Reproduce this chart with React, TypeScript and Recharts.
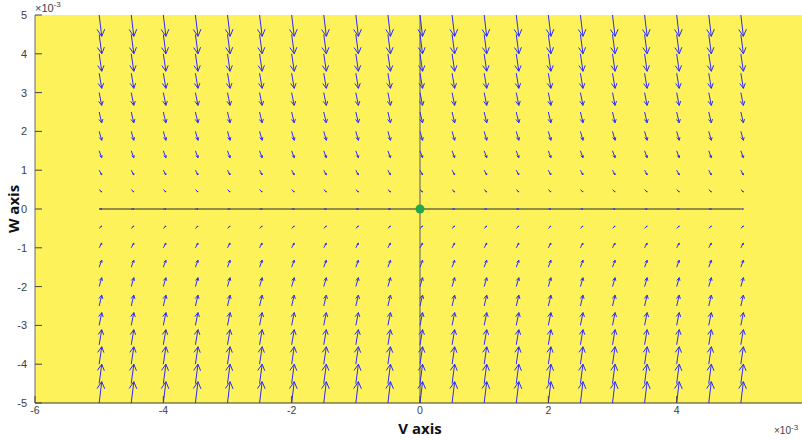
import React from "react";
import {
  ComposedChart, Line, Scatter, XAxis, YAxis, CartesianGrid,
} from "recharts";

// grid of the quiver plot (V in x10^-3, W in x10^-3)
const V_COLS = [-5, -4.5, -4, -3.5, -3, -2.5, -2, -1.5, -1, -0.5, 0, 0.5, 1, 1.5, 2, 2.5, 3, 3.5, 4, 4.5, 5];
const W_ROWS = [5, 4.5, 4, 3.5, 3, 2.5, 2, 1.5, 1, 0.5, 0, -0.5, -1, -1.5, -2, -2.5, -3, -3.5, -4, -4.5, -5];
// vertical arrow component per row (same for every column)
const ROW_DW = [-0.55, -0.5, -0.45, -0.39, -0.33, -0.28, -0.23, -0.18, -0.12, -0.06, 0, 0.06, 0.12, 0.18, 0.23, 0.28, 0.33, 0.39, 0.45, 0.5, 0.55];
// horizontal arrow component (constant small drift to the right)
const DV = 0.04;

const X_TICKS = [-6, -4, -2, 0, 2, 4, 6];
const Y_TICKS = [-5, -4, -3, -2, -1, 0, 1, 2, 3, 4, 5];

const NULL_V = [{ x: 0, y: -5 }, { x: 0, y: 5 }];
const NULL_W = [{ x: -5, y: 0 }, { x: 5, y: 0 }];
const EQUILIBRIUM = [{ x: 0, y: 0 }];

type Pt = { x: number; y: number | null };

// shafts + heads like matlab quiver (alpha = beta = 0.33)
function buildArrows(): Pt[] {
  const out: Pt[] = [];
  const a = 0.33, b = 0.33;
  W_ROWS.forEach((w, ri) => {
    const v = ROW_DW[ri];
    V_COLS.forEach((x) => {
      const u = DV;
      const tx = x + u, ty = w + v;
      out.push({ x, y: w }, { x: tx, y: ty }, { x: tx, y: null });
      const h1x = tx - a * (u + b * v), h1y = ty - a * (v - b * u);
      const h2x = tx - a * (u - b * v), h2y = ty - a * (v + b * u);
      out.push({ x: h1x, y: h1y }, { x: tx, y: ty }, { x: h2x, y: h2y }, { x: h2x, y: null });
    });
  });
  return out;
}

const ARROWS = buildArrows();

const LeftTick = ({ x, y, payload }: any) => (
  <g>
    <line x1={x + 8} x2={x + 15} y1={y} y2={y} stroke="#444" />
    <text x={x} y={y} dy={4} textAnchor="end" fontSize={11} fill="#404040">{payload.value}</text>
  </g>
);

// the 6 label lies past the window edge, so only its tick is drawn
const BottomTick = ({ x, y, payload }: any) => (
  <g>
    <line x1={x} x2={x} y1={y - 6} y2={y - 13} stroke="#444" />
    {payload.value < 6 && (
      <text x={x} y={y} dy={5} textAnchor="middle" fontSize={10.5} fill="#404040">{payload.value}</text>
    )}
  </g>
);

const TopTick = ({ x, y }: any) => <line x1={x} x2={x} y1={y} y2={y + 7} stroke="#444" />;
const RightTick = ({ x, y }: any) => <line x1={x - 7} x2={x} y1={y} y2={y} stroke="#444" />;

export default function App() {
  return (
    <div style={{ position: "absolute", left: 0, top: 0, width: 802, height: 441, overflow: "hidden", background: "#fff", fontFamily: "'Liberation Sans', Arial, sans-serif" }}>
      <ComposedChart width={810} height={441} margin={{ top: 15, right: 5, bottom: 0, left: 0 }}>
        <CartesianGrid horizontal={false} vertical={false} fill="#FEF25A" fillOpacity={1} />
        <XAxis
          xAxisId="b" type="number" dataKey="x" domain={[-6, 6]} ticks={X_TICKS} interval={0}
          allowDataOverflow height={38} tickSize={0} tickMargin={6}
          axisLine={{ stroke: "#3a3a3a" }} tick={<BottomTick />}
          label={{
            content: ({ viewBox }: any) => (
              <text x={viewBox.x + viewBox.width / 2} y={viewBox.y + 31} textAnchor="middle" fontSize={15} fontWeight="bold" fill="#111" fontFamily="'Open Sans', sans-serif">V axis</text>
            ),
          }}
        />
        <XAxis
          xAxisId="t" orientation="top" type="number" dataKey="x" domain={[-6, 6]} ticks={X_TICKS} interval={0}
          height={0} tickSize={0} tickMargin={0} axisLine={{ stroke: "#8a8a8a" }} tick={<TopTick />}
        />
        <YAxis
          yAxisId="l" type="number" dataKey="y" domain={[-5, 5]} ticks={Y_TICKS} interval={0}
          allowDataOverflow width={35} tickSize={0} tickMargin={8}
          axisLine={{ stroke: "#6a6a6a" }} tick={<LeftTick />}
          label={{
            content: ({ viewBox }: any) => {
              const cx = 13, cy = viewBox.y + viewBox.height / 2;
              return (
                <text x={cx} y={cy} transform={`rotate(-90 ${cx} ${cy})`} textAnchor="middle" dominantBaseline="central" fontSize={15} fontWeight="bold" fill="#111" fontFamily="'Open Sans', sans-serif">W axis</text>
              );
            },
          }}
        />
        <YAxis
          yAxisId="r" orientation="right" type="number" dataKey="y" domain={[-5, 5]} ticks={Y_TICKS} interval={0}
          width={0} tickSize={0} tickMargin={0} axisLine={false} tick={<RightTick />}
        />
        <Line xAxisId="b" yAxisId="l" data={NULL_V} dataKey="y" stroke="#5a5a5a" strokeWidth={1} dot={false} isAnimationActive={false} />
        <Line xAxisId="b" yAxisId="l" data={NULL_W} dataKey="y" stroke="#2a2a2a" strokeWidth={1} dot={false} isAnimationActive={false} />
        <Line xAxisId="b" yAxisId="l" data={ARROWS} dataKey="y" stroke="#2a2aff" strokeWidth={1} dot={false} connectNulls={false} isAnimationActive={false} />
        <Scatter xAxisId="b" yAxisId="l" data={EQUILIBRIUM} dataKey="y" fill="#22A84A" shape="circle" isAnimationActive={false} />
      </ComposedChart>
      <div style={{ position: "absolute", left: 35, top: 0, fontSize: 11, color: "#404040", whiteSpace: "nowrap" }}>
        ×10<sup style={{ fontSize: 8 }}>-3</sup>
      </div>
      <div style={{ position: "absolute", left: 774, top: 423, fontSize: 10, color: "#404040", whiteSpace: "nowrap" }}>
        ×10<sup style={{ fontSize: 8 }}>-3</sup>
      </div>
    </div>
  );
}
